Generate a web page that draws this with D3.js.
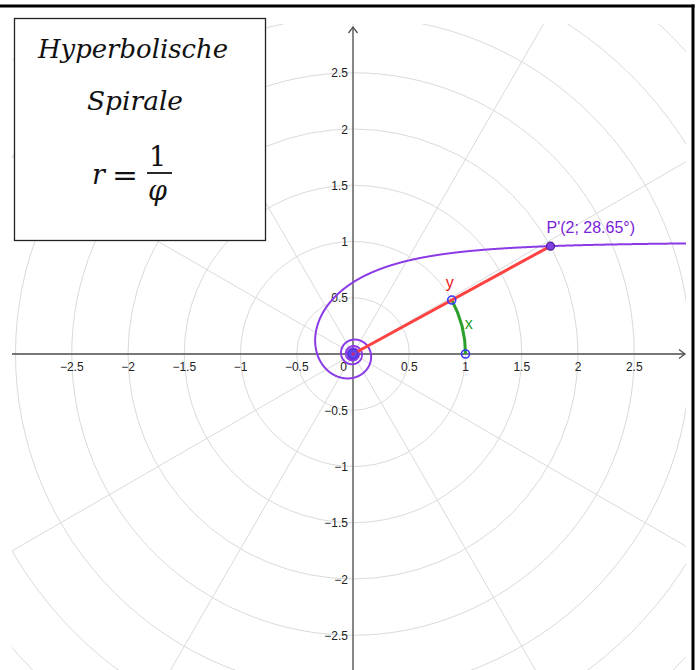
<!DOCTYPE html>
<html>
<head>
<meta charset="utf-8">
<script src="https://cdn.jsdelivr.net/npm/d3@7"></script>
<style>
  body { margin: 0; background: #fff; }
  svg { display: block; }
  .grid { fill: none; stroke: #dadada; stroke-width: 1; }
  .axis { stroke: #505050; stroke-width: 1.3; fill: none; }
  .tick { font-family: "Liberation Sans", Arial, sans-serif; font-size: 12px; fill: #222; }
</style>
</head>
<body>
<div id="chart"></div>
<script>
// ticks on both axes
var xTicks = [-2.5, -2, -1.5, -1, -0.5, 0.5, 1, 1.5, 2, 2.5];
var yTicks = [-2.5, -2, -1.5, -1, -0.5, 0.5, 1, 1.5, 2, 2.5];
// polar grid
var gridRadii = [0.5, 1, 1.5, 2, 2.5, 3, 3.5, 4, 4.5];
var gridAngles = [0, 30, 60, 90, 120, 150, 180, 210, 240, 270, 300, 330];
// the point P' in polar coordinates (r; phi in rad)
var pointR = [2];
var pointPhi = [0.5];
var pointLabel = ["P'(2; 28.65°)"];
// parameter range of the curve r = 1/phi
var phiRange = [0.12, 60];

var W = 699, H = 670;
var view = { left: 12, right: 686, top: 24, bottom: 670 };

var svg = d3.select('#chart').append('svg')
  .attr('width', W).attr('height', H);

var x = d3.scaleLinear().domain([-2.5, 2.5]).range([71.75, 634.25]);
var y = d3.scaleLinear().domain([-2.5, 2.5]).range([635.25, 72.75]);
var unit = x(1) - x(0);

svg.append('defs').append('clipPath').attr('id', 'view')
  .append('rect')
    .attr('x', view.left).attr('y', view.top)
    .attr('width', view.right - view.left).attr('height', view.bottom - view.top);

var g = svg.append('g').attr('clip-path', 'url(#view)');

// grid circles
g.selectAll('circle.grid').data(gridRadii).enter()
  .append('circle')
    .attr('class', 'grid')
    .attr('cx', x(0)).attr('cy', y(0))
    .attr('r', function (d) { return d * unit; });

// radial grid lines
g.selectAll('line.grid').data(gridAngles).enter()
  .append('line')
    .attr('class', 'grid')
    .attr('x1', x(0)).attr('y1', y(0))
    .attr('x2', function (d) { return x(6 * Math.cos(d * Math.PI / 180)); })
    .attr('y2', function (d) { return y(6 * Math.sin(d * Math.PI / 180)); });

// axes
g.append('line').attr('class', 'axis')
  .attr('x1', view.left).attr('y1', y(0)).attr('x2', view.right - 1).attr('y2', y(0));
g.append('line').attr('class', 'axis')
  .attr('x1', x(0)).attr('y1', view.bottom).attr('x2', x(0)).attr('y2', view.top + 3);
g.append('path').attr('class', 'axis')
  .attr('d', 'M' + (view.right - 7) + ',' + (y(0) - 4.5) + 'L' + (view.right - 1) + ',' + y(0) +
             'L' + (view.right - 7) + ',' + (y(0) + 4.5));
g.append('path').attr('class', 'axis')
  .attr('d', 'M' + (x(0) - 4.5) + ',' + (view.top + 9) + 'L' + x(0) + ',' + (view.top + 3) +
             'L' + (x(0) + 4.5) + ',' + (view.top + 9));

function fmt(v) { return (v < 0 ? '\u2212' : '') + Math.abs(v); }

// tick labels
g.selectAll('text.xt').data(xTicks).enter()
  .append('text').attr('class', 'tick')
    .attr('x', function (d) { return x(d); })
    .attr('y', y(0) + 17)
    .attr('text-anchor', 'middle')
    .text(fmt);
g.selectAll('text.yt').data(yTicks).enter()
  .append('text').attr('class', 'tick')
    .attr('x', x(0) - 5)
    .attr('y', function (d) { return y(d) + 4.5; })
    .attr('text-anchor', 'end')
    .text(fmt);
g.append('text').attr('class', 'tick')
  .attr('x', x(0) - 6).attr('y', y(0) + 17)
  .attr('text-anchor', 'end').text('0');

// spiral r = 1/phi, sampled geometrically in phi
var phis = [];
for (var p = phiRange[0]; p <= phiRange[1]; p *= 1.002) phis.push(p);
var spiral = d3.line()
  .x(function (t) { return x(Math.cos(t) / t); })
  .y(function (t) { return y(Math.sin(t) / t); });
g.append('path')
  .attr('d', spiral(phis))
  .attr('fill', 'none')
  .attr('stroke', '#8a3be6')
  .attr('stroke-width', 2);

var P = { x: pointR[0] * Math.cos(pointPhi[0]), y: pointR[0] * Math.sin(pointPhi[0]) };
var U = { x: Math.cos(pointPhi[0]), y: Math.sin(pointPhi[0]) };

// arc x on the unit circle
var arc = d3.arc()
  .innerRadius(unit).outerRadius(unit)
  .startAngle(Math.PI / 2 - pointPhi[0]).endAngle(Math.PI / 2);
g.append('path')
  .attr('transform', 'translate(' + x(0) + ',' + y(0) + ')')
  .attr('d', arc())
  .attr('fill', 'none')
  .attr('stroke', '#2aa02a')
  .attr('stroke-width', 3);

// segment y
g.append('line')
  .attr('x1', x(0)).attr('y1', y(0))
  .attr('x2', x(P.x)).attr('y2', y(P.y))
  .attr('stroke', '#ff4242')
  .attr('stroke-width', 3)
  .attr('stroke-linecap', 'round');

// points
g.append('circle')
  .attr('cx', x(0)).attr('cy', y(0)).attr('r', 5)
  .attr('fill', '#5b46ee').attr('fill-opacity', 0.85)
  .attr('stroke', '#3b2bd0').attr('stroke-width', 1);
g.append('circle')
  .attr('cx', x(0)).attr('cy', y(0)).attr('r', 1.5)
  .attr('fill', '#d0206a');
[{ x: 1, y: 0 }, U].forEach(function (d) {
  g.append('circle')
    .attr('cx', x(d.x)).attr('cy', y(d.y)).attr('r', 4)
    .attr('fill', 'none').attr('stroke', '#3737ff').attr('stroke-width', 1.6);
});
g.append('circle')
  .attr('cx', x(P.x)).attr('cy', y(P.y)).attr('r', 4)
  .attr('fill', '#8040e0').attr('stroke', '#4a1e9c').attr('stroke-width', 1.2);

// labels
var lab = "'Liberation Sans', Arial, sans-serif";
g.append('text')
  .attr('x', x(P.x) - 4).attr('y', y(P.y) - 13)
  .style('font-family', lab).style('font-size', '16px')
  .attr('fill', '#7a22d8')
  .text(pointLabel[0]);
g.append('text')
  .attr('x', x(U.x) - 6).attr('y', y(U.y) - 12)
  .style('font-family', lab).style('font-size', '16px')
  .attr('fill', '#f01010')
  .text('y');
g.append('text')
  .attr('x', x(U.x) + 13).attr('y', y(U.y) + 29)
  .style('font-family', lab).style('font-size', '16px')
  .attr('fill', '#1f9a1f')
  .text('x');

// frame
svg.append('line').attr('x1', 0).attr('y1', 6).attr('x2', 694.5).attr('y2', 6)
  .attr('stroke', '#000').attr('stroke-width', 3);
svg.append('line').attr('x1', 693).attr('y1', 4.5).attr('x2', 693).attr('y2', H)
  .attr('stroke', '#000').attr('stroke-width', 3);

// title box
var box = svg.append('g');
box.append('rect')
  .attr('x', 14.5).attr('y', 18.5).attr('width', 251).attr('height', 222)
  .attr('fill', '#fff').attr('stroke', '#222').attr('stroke-width', 1.3);
var serif = "'DejaVu Serif', 'Liberation Serif', serif";
function tx(str, x0, yb, size, w, italic) {
  var t = box.append('text')
    .attr('x', x0).attr('y', yb)
    .style('font-family', serif).style('font-size', size + 'px')
    .style('font-style', italic ? 'italic' : 'normal')
    .attr('fill', '#111')
    .text(str);
  if (w) t.attr('textLength', w).attr('lengthAdjust', 'spacingAndGlyphs');
  return t;
}
tx('Hyperbolische', 38, 58, 26, 190, true);
tx('Spirale', 87, 110, 26, 96, true);
tx('r', 92, 184, 27, null, true);
tx('=', 112, 185, 27, 26, false);
tx('1', 149, 166, 27, null, false);
box.append('line').attr('x1', 147).attr('x2', 172).attr('y1', 173).attr('y2', 173)
  .attr('stroke', '#111').attr('stroke-width', 1.8);
tx('\u03c6', 148, 200, 27, null, true);
</script>
</body>
</html>
